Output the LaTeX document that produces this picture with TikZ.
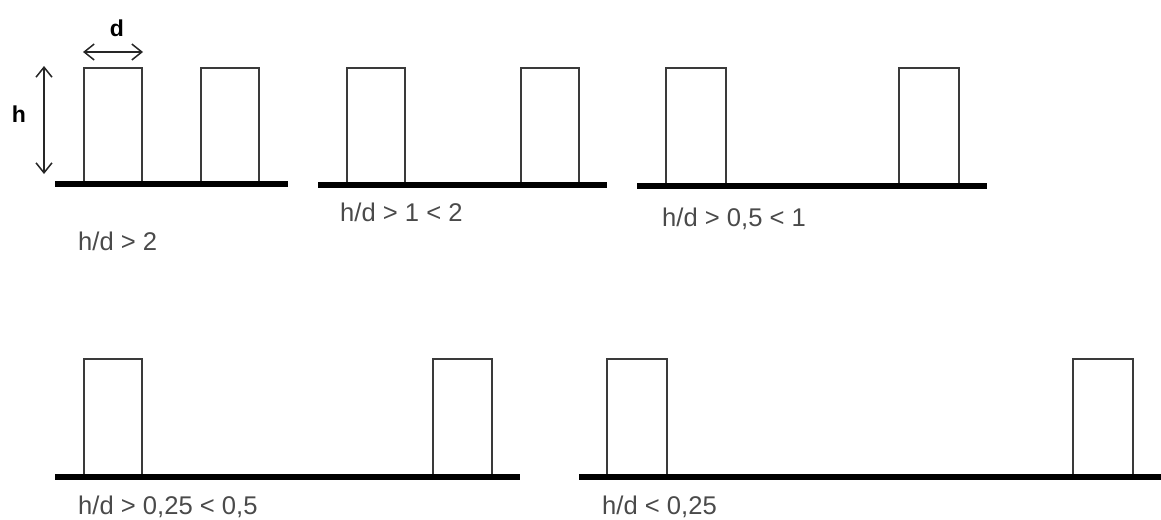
\documentclass[tikz,border=0pt]{standalone}
\usepackage{fontspec}
\setmainfont{Liberation Sans}
\usetikzlibrary{arrows.meta}
\definecolor{wallgray}{HTML}{3A3A3A}
\definecolor{labelgray}{HTML}{4A4A4A}
\tikzset{
  wall/.style={draw=wallgray, line width=2pt},
  ground/.style={draw=black, line width=6pt},
  caption/.style={anchor=base west, inner sep=0pt, text=labelgray,
    font=\fontsize{25.6}{30}\selectfont},
  dimlabel/.style={inner sep=0pt, font=\bfseries\fontsize{23}{26}\selectfont},
  dimarrow/.style={draw=black!85, line width=1.5pt,
    {Straight Barb[length=10pt,width=16pt]}-{Straight Barb[length=10pt,width=16pt]}}
}
\begin{document}
\begin{tikzpicture}[x=1pt,y=-1pt]
\useasboundingbox (0,0) rectangle (1161,519);

% walls of each street section: (left, top) rectangle (right, ground)
\draw[wall] (84,68) rectangle (142,183);
\draw[wall] (201,68) rectangle (259,183);
\draw[wall] (347,68) rectangle (405,185);
\draw[wall] (521,68) rectangle (579,185);
\draw[wall] (666,68) rectangle (726,186);
\draw[wall] (899,68) rectangle (959,186);
\draw[wall] (84,359) rectangle (142,477);
\draw[wall] (433,359) rectangle (492,477);
\draw[wall] (607,359) rectangle (667,477);
\draw[wall] (1073,359) rectangle (1133,477);

% ground lines
\coordinate (g1a) at (55,184);  \coordinate (g1b) at (288,184);
\coordinate (g2a) at (318,185); \coordinate (g2b) at (607,185);
\coordinate (g3a) at (637,186); \coordinate (g3b) at (987,186);
\coordinate (g4a) at (55,477);  \coordinate (g4b) at (520,477);
\coordinate (g5a) at (579,477); \coordinate (g5b) at (1161,477);
\draw[ground] (g1a) -- (g1b);
\draw[ground] (g2a) -- (g2b);
\draw[ground] (g3a) -- (g3b);
\draw[ground] (g4a) -- (g4b);
\draw[ground] (g5a) -- (g5b);

% dimensions h and d
\coordinate (dl) at (83,52);  \coordinate (dr) at (143,52);
\coordinate (ht) at (44,66);  \coordinate (hb) at (44,174);
\draw[dimarrow] (dl) -- (dr);
\draw[dimarrow] (ht) -- (hb);
\node[dimlabel] (dlab) at (117,28) {d};
\node[dimlabel] (hlab) at (19,114) {h};

% ratio captions
\node[caption] (c1) at (78,250) {h/d > 2};
\node[caption] (c2) at (340,221) {h/d > 1 < 2};
\node[caption] (c3) at (662,226) {h/d > 0,5 < 1};
\node[caption] (c4) at (78,514) {h/d > 0,25 < 0,5};
\node[caption] (c5) at (602,514) {h/d < 0,25};
\end{tikzpicture}
\end{document}
